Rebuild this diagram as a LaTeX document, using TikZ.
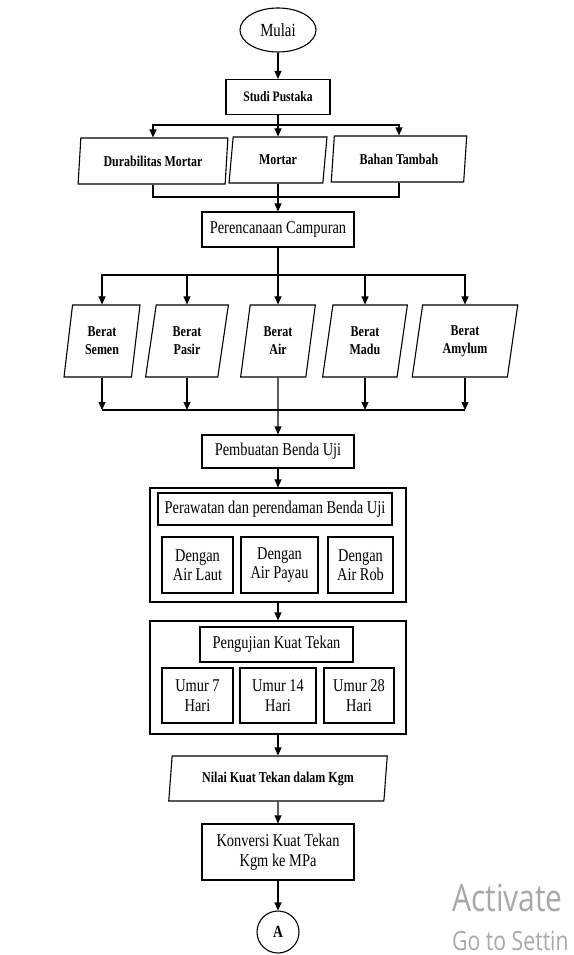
\documentclass[tikz,border=0pt]{standalone}
\usepackage{fontspec}
\setmainfont[FakeStretch=0.8]{Liberation Serif}
\newfontfamily\wmfont[FakeStretch=0.8]{Open Sans}
\usepackage{tikz}
\usetikzlibrary{arrows.meta,positioning,shapes.geometric}
\definecolor{flowBorder}{HTML}{000000}
\definecolor{wmGray}{HTML}{A8A8A8}

\begin{document}
\begin{tikzpicture}[
        x=1pt, y=-1pt,
        font=\fontsize{18}{19.5}\selectfont,
        box/.style={
            draw=flowBorder,
            line width=1.1pt,
            inner sep=0pt,
            align=center
        },
        iobox/.style={
            box,
            trapezium,
            trapezium left angle=80,
            trapezium right angle=100,
            trapezium stretches=true,
            font=\bfseries\fontsize{15}{18}\selectfont
        },
        arrow/.style={
            -{Triangle[length=8pt,width=7pt]},
            line width=1.1pt,
            draw=flowBorder
        },
        garis/.style={
            line width=1.1pt,
            draw=flowBorder
        }
    ]
    \useasboundingbox (0,0) rectangle (573,955);

    \node[box, ellipse, minimum width=76pt, minimum height=44pt,
        font=\fontsize{18.5}{20}\selectfont] (mulai) at (278,30) {Mulai};

    \node[box, minimum width=104pt, minimum height=35pt,
        font=\bfseries\fontsize{14.5}{17}\selectfont] (studi) at (278,97) {Studi Pustaka};

    % kajian
    \node[iobox, minimum width=150pt, minimum height=46pt] (durabilitas) at (153,161)
        {Durabilitas Mortar};
    \node[iobox, minimum width=98pt, minimum height=46pt] (mortar) at (278,160)
        {Mortar};
    \node[iobox, minimum width=136pt, minimum height=46pt] (bahan) at (399,159)
        {Bahan Tambah};

    \node[box, minimum width=152pt, minimum height=35pt] (perencanaan) at (278,229.5)
        {Perencanaan Campuran};

    % komposisi
    \node[iobox, minimum width=76pt, minimum height=72pt] (semen) at (102,341)
        {Berat\\Semen};
    \node[iobox, minimum width=83pt, minimum height=72pt] (pasir) at (187,341)
        {Berat\\Pasir};
    \node[iobox, minimum width=75pt, minimum height=72pt] (air) at (278,341)
        {Berat\\Air};
    \node[iobox, minimum width=85pt, minimum height=72pt] (madu) at (365,341)
        {Berat\\Madu};
    \node[iobox, minimum width=106pt, minimum height=72pt] (amylum) at (465,341)
        {Berat\\Amylum};

    \node[box, minimum width=152pt, minimum height=33pt] (pembuatan) at (278,451.5)
        {Pembuatan Benda Uji};

    % perawatan
    \node[box, minimum width=256pt, minimum height=114pt] (rawat) at (278,545) {};
    \node[box, minimum width=234pt, minimum height=32pt] (perawatan) at (275,509)
        {Perawatan dan perendaman Benda Uji};
    \node[box, minimum width=71pt, minimum height=56pt] (laut) at (197.5,565)
        {Dengan\\Air Laut};
    \node[box, minimum width=77pt, minimum height=56pt] (payau) at (279.5,565)
        {Dengan\\Air Payau};
    \node[box, minimum width=65pt, minimum height=56pt] (rob) at (360.5,565)
        {Dengan\\Air Rob};

    % pengujian
    \node[box, minimum width=256pt, minimum height=113pt] (uji) at (278,677.5) {};
    \node[box, minimum width=153pt, minimum height=35pt] (pengujian) at (276.5,644.5)
        {Pengujian Kuat Tekan};
    \node[box, minimum width=71pt, minimum height=55pt] (umur7) at (197.5,695.5)
        {Umur 7\\Hari};
    \node[box, minimum width=76pt, minimum height=55pt] (umur14) at (278,695.5)
        {Umur 14\\Hari};
    \node[box, minimum width=70pt, minimum height=55pt] (umur28) at (359,695.5)
        {Umur 28\\Hari};

    \node[iobox, minimum width=219pt, minimum height=45pt] (nilai) at (278,778.5)
        {Nilai Kuat Tekan dalam Kgm};

    \node[box, minimum width=152pt, minimum height=56pt] (konversi) at (278,852)
        {Konversi Kuat Tekan\\Kgm ke MPa};

    \node[box, circle, minimum size=42pt,
        font=\bfseries\fontsize{17}{18}\selectfont] (konektor) at (278,932) {A};

    % alur
    \draw[arrow] (mulai) -- (studi);
    \coordinate (cabang1) at (278,125);
    \draw[garis] (studi) -- (cabang1);
    \draw[arrow] (cabang1) -| (durabilitas.north);
    \draw[arrow] (cabang1) -- (cabang1 |- mortar.north);
    \draw[arrow] (cabang1) -| (bahan.north);
    \coordinate (gabung1) at (278,197);
    \draw[garis] (durabilitas.south) |- (gabung1);
    \draw[garis] (bahan.south) |- (gabung1);
    \draw[garis] (gabung1 |- mortar.south) -- (gabung1);
    \draw[arrow] (gabung1) -- (perencanaan);

    \coordinate (cabang2) at (278,275);
    \draw[garis] (perencanaan) -- (cabang2);
    \foreach \n in {semen,pasir,madu,amylum}
        \draw[arrow] (cabang2) -| (\n.north);
    \draw[arrow] (cabang2) -- (air);
    \coordinate (gabung2) at (278,410);
    \foreach \n in {semen,pasir,madu,amylum}
        \draw[arrow] (\n.south) -- (\n.south |- gabung2);
    \draw[garis] (semen.south |- gabung2) -- (amylum.south |- gabung2);
    \draw[arrow] (air) -- (pembuatan);

    \draw[arrow] (pembuatan) -- (rawat);
    \draw[arrow] (rawat) -- (uji);
    \draw[arrow] (uji) -- (nilai);
    \draw[arrow] (nilai) -- (konversi);
    \draw[arrow] (konversi) -- (konektor);

    \begin{scope}
        \clip (0,0) rectangle (573,955);
        \node[anchor=base west, inner sep=0pt, text=wmGray,
            font=\wmfont\fontsize{37.5}{40}\selectfont] (aktivasi) at (452,911) {Activate};
        \node[anchor=base west, inner sep=0pt, text=wmGray,
            font=\wmfont\fontsize{26.5}{28}\selectfont] (setelan) at (452,950) {Go to Settin};
    \end{scope}
\end{tikzpicture}
\end{document}
